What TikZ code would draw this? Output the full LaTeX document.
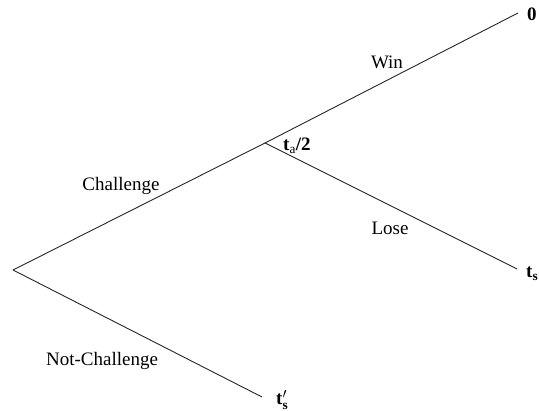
\documentclass[tikz,border=0pt]{standalone}
\usepackage{amsmath}
\usepackage{fontspec}
\setmainfont{Liberation Serif}
\begin{document}
\begin{tikzpicture}[x=1pt,y=-1pt,
  edge/.style={line width=0.9pt, black!85},
  lbl/.style={font=\fontsize{19}{21}\selectfont, inner sep=0pt},
  pay/.style={font=\fontsize{19}{21}\selectfont\bfseries, inner sep=0pt}]
\useasboundingbox (0,0) rectangle (539,411);
\coordinate (root) at (13,270);
\coordinate (ch) at (265,143);
\coordinate (win) at (518,13);
\coordinate (lose) at (517,269);
\coordinate (nc) at (262,397);
\draw[edge] (root) -- (ch) -- (win);
\draw[edge] (ch) -- (lose);
\draw[edge] (root) -- (nc);
\node[pay, anchor=west] (z) at (527,14) {0};
\node[pay, anchor=west] (ta) at (283,146) {t\textsubscript{\mdseries a}/2};
\node[pay, anchor=west] (ts) at (526,274) {t\textsubscript{s}};
\node[pay, anchor=west] (tsp) at (276,400) {t$'_{\textbf{s}}$};
\node[lbl] (w) at (387,62) {Win};
\node[lbl] (c) at (121,186) {Challenge};
\node[lbl] (l) at (390,228) {Lose};
\node[lbl] (n) at (102,361) {Not-Challenge};
\end{tikzpicture}
\end{document}
